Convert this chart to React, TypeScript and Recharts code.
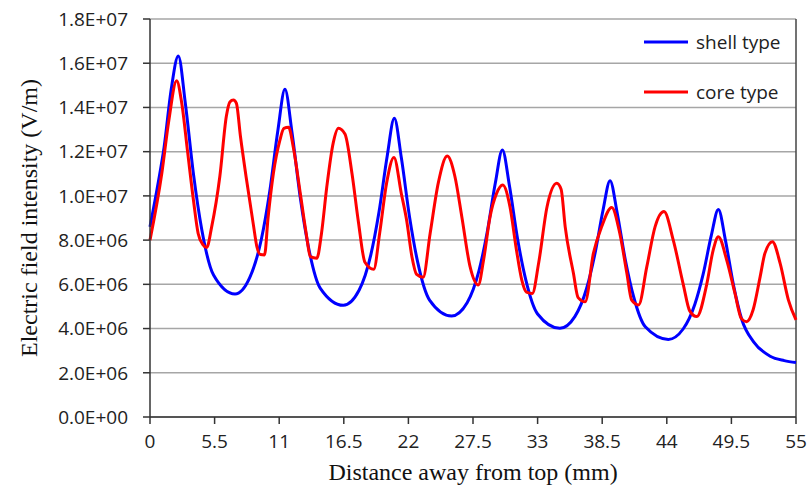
import React from "react";
import {
  LineChart,
  Line,
  XAxis,
  YAxis,
  CartesianGrid,
  ReferenceLine,
  Legend,
} from "recharts";

// distance from top (mm) / field intensity in 1e6 V/m
const shellX = [
  0, 0.7, 1.2, 1.8, 2.41, 3.01, 3.71, 4.41, 5.41, 7.24,
  8.49, 9.49, 10.19, 10.89, 11.49, 12.09, 12.79, 13.49, 14.49, 16.46,
  17.8, 18.8, 19.5, 20.2, 20.8, 21.4, 22.1, 22.8, 23.8, 25.68,
  27.0, 28.0, 28.7, 29.4, 30.0, 30.6, 31.3, 32.0, 33.0, 34.9,
  36.17, 37.17, 37.87, 38.57, 39.17, 39.77, 40.47, 41.17, 42.17, 44.13,
  45.39, 46.39, 47.09, 47.79, 48.39, 48.99, 49.69, 50.39, 51.39, 52.8,
  54.0, 55,
];
const shellV = [
  8.6, 10.6, 12.2, 14.8, 16.33, 14.18, 10.95, 8.47, 6.42, 5.56,
  6.3, 8.06, 10.19, 12.97, 14.82, 12.87, 9.94, 7.69, 5.83, 5.05,
  5.73, 7.33, 9.28, 11.82, 13.51, 11.72, 9.04, 6.98, 5.29, 4.57,
  5.17, 6.6, 8.33, 10.58, 12.08, 10.47, 8.04, 6.19, 4.66, 4.01,
  4.54, 5.81, 7.35, 9.35, 10.69, 9.25, 7.1, 5.45, 4.08, 3.51,
  3.98, 5.1, 6.45, 8.21, 9.39, 8.0, 5.93, 4.4, 3.4, 2.75,
  2.55, 2.46,
];

const coreX = [
  0, 1.0, 1.6, 2.27,
  2.7, 3.2, 3.7, 4.1, 4.5, 4.83,
  5.25, 5.95, 6.5, 6.8, 7.1, 7.35,
  7.7, 8.2, 8.8, 9.1, 9.4, 9.75,
  10.05, 10.5, 11.05, 11.4, 11.8,
  12.2, 12.8, 13.3, 13.65, 14.2,
  14.6, 15.05, 15.6, 16.04, 16.6,
  17.2, 17.75, 18.3, 19.05,
  19.55, 20.15, 20.77,
  21.4, 21.85, 22.3, 22.7, 23.25,
  23.85, 24.55, 25.31,
  25.95, 26.55, 27.25, 27.95,
  28.4, 28.95, 29.5, 30.03,
  30.65, 31.2, 31.65, 32.05, 32.55,
  33.1, 33.8, 34.63, 35.0,
  35.35, 36.05, 36.45, 37.05,
  37.75, 38.45, 39.31,
  40.0, 40.6, 41.0, 41.6,
  42.3, 43.0, 43.76,
  44.55, 45.4, 45.95, 46.55,
  47.4, 47.95, 48.39,
  49.1, 49.8, 50.35, 50.8,
  51.35, 51.95, 52.35, 52.99,
  53.65, 54.35, 55,
];
const coreV = [
  8.0, 11.0, 13.4, 15.21,
  14.2, 12.0, 9.8, 8.3, 7.8, 7.67,
  8.6, 10.9, 13.6, 14.25, 14.34, 14.2,
  12.7, 10.8, 8.7, 7.7, 7.35, 7.33,
  9.0, 11.0, 12.5, 13.05, 13.1,
  12.2, 10.1, 8.3, 7.25, 7.18,
  8.3, 10.4, 12.4, 13.06, 12.8,
  11.0, 8.8, 7.0, 6.68,
  8.3, 10.6, 11.74,
  10.1, 8.9, 7.25, 6.45, 6.32,
  8.3, 10.6, 11.8,
  10.9, 9.05, 6.8, 5.97,
  7.1, 9.05, 10.1, 10.49,
  9.5, 7.55, 6.2, 5.65, 5.59,
  7.0, 9.5, 10.57, 10.3,
  8.6, 6.5, 5.4, 5.21,
  7.4, 8.6, 9.48,
  8.3, 6.5, 5.3, 5.07,
  6.8, 8.6, 9.29,
  8.0, 6.0, 4.8, 4.54,
  6.0, 7.55, 8.15,
  7.1, 5.6, 4.45, 4.31,
  4.85, 6.35, 7.4, 7.93,
  6.95, 5.3, 4.39,
];

const seriesNames = ["shell type", "core type"];
const xTicks = [0, 5.5, 11, 16.5, 22, 27.5, 33, 38.5, 44, 49.5, 55];
const yTicks = [0, 2, 4, 6, 8, 10, 12, 14, 16, 18];

const shellData = shellX.map((x, i) => ({ x, v: shellV[i] }));
const coreData = coreX.map((x, i) => ({ x, v: coreV[i] }));

// 1.2 (x1e6) -> "1.2E+06"
function sci(v: number) {
  const [m, e] = (v * 1e6).toExponential(1).split("e");
  const sign = e[0] === "-" ? "-" : "+";
  const digits = e.replace(/[+-]/, "").padStart(2, "0");
  return `${m}E${sign}${digits}`;
}

const TICK_FONT = { fill: "#222", fontSize: 19, fontFamily: "Open Sans" };

function LegendBox({ payload }: any) {
  const items = [...(payload || [])].sort(
    (a: any, b: any) => seriesNames.indexOf(a.value) - seriesNames.indexOf(b.value)
  );
  return (
    <div style={{ fontFamily: "Open Sans", fontSize: 19, color: "#222" }}>
      {items.map((p: any) => (
        <div
          key={p.value}
          style={{ display: "flex", alignItems: "center", height: 50 }}
        >
          <svg width={48} height={6} style={{ marginRight: 4 }}>
            <line x1={0} y1={3} x2={44} y2={3} stroke={p.color} strokeWidth={3} />
          </svg>
          <span>{p.value}</span>
        </div>
      ))}
    </div>
  );
}

export default function App() {
  return (
    <div style={{ position: "absolute", left: 0, top: 0, background: "#fff" }}>
      <LineChart
        width={808}
        height={491}
        margin={{ top: 19, right: 12, bottom: 0, left: 0 }}
      >
        <CartesianGrid vertical={false} stroke="#a6a6a6" strokeWidth={1.5} />
        <XAxis
          type="number"
          dataKey="x"
          domain={[0, 55]}
          ticks={xTicks}
          interval={0}
          height={74}
          stroke="#333"
          strokeWidth={1.5}
          tickSize={7}
          tickMargin={11}
          tick={TICK_FONT}
          allowDuplicatedCategory={false}
          label={{
            value: "Distance away from top (mm)",
            position: "insideBottom",
            offset: 11,
            style: {
              fontFamily: "Liberation Serif",
              fontSize: 24,
              fill: "#111",
            },
          }}
        />
        <YAxis
          type="number"
          domain={[0, 18]}
          ticks={yTicks}
          interval={0}
          width={150}
          stroke="#333"
          strokeWidth={1.5}
          tickSize={7}
          tickMargin={15}
          tick={TICK_FONT}
          tickFormatter={sci}
          label={{
            content: () => (
              <text
                x={29}
                y={218}
                transform="rotate(-90 29 218)"
                textAnchor="middle"
                dominantBaseline="central"
                fontFamily="Liberation Serif"
                fontSize={24}
                fill="#111"
              >
                Electric field intensity (V/m)
              </text>
            ),
          }}
        />
        <ReferenceLine x={55} stroke="#444" strokeWidth={1.5} />
        <Legend
          layout="horizontal"
          verticalAlign="middle"
          align="center"
          content={<LegendBox />}
          wrapperStyle={{ top: 17, left: 644, width: 160 }}
        />
        <Line
          data={shellData}
          dataKey="v"
          name={seriesNames[0]}
          type="monotone"
          stroke="#0000ff"
          strokeWidth={3}
          dot={false}
          isAnimationActive={false}
        />
        <Line
          data={coreData}
          dataKey="v"
          name={seriesNames[1]}
          type="monotone"
          stroke="#ff0000"
          strokeWidth={3}
          dot={false}
          isAnimationActive={false}
        />
      </LineChart>
    </div>
  );
}
